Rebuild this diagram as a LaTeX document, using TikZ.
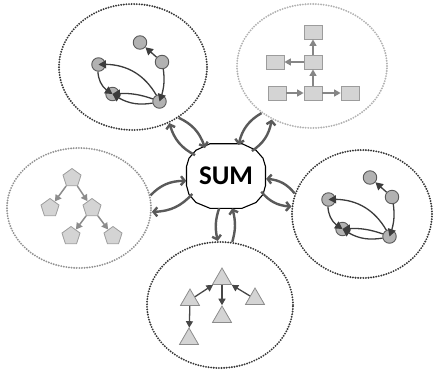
\documentclass[tikz,border=0pt]{standalone}
\usepackage{fontspec}
\setmainfont{Carlito}
\usetikzlibrary{arrows.meta,shapes.geometric,bending}

\definecolor{dotdark}{HTML}{363636}
\definecolor{dotgray}{HTML}{929292}
\definecolor{dotlight}{HTML}{B2B2B2}
\definecolor{linkgray}{HTML}{5A5A5A}
\definecolor{ballfill}{HTML}{B2B2B2}
\definecolor{balledge}{HTML}{5A5A5A}
\definecolor{ballline}{HTML}{3C3C3C}
\definecolor{shapefill}{HTML}{D4D4D4}
\definecolor{shapeedge}{HTML}{9C9C9C}

\tikzset{
  region/.style={ellipse, inner sep=0pt, line width=2.1pt, line cap=round,
                 dash pattern=on 0pt off 2.6pt},
  link/.style={draw=linkgray, line width=2.4pt,
               -{Straight Barb[length=3.8pt,width=9pt]}},
  ball/.style={circle, fill=ballfill, draw=balledge, line width=0.9pt,
               minimum size=13.5pt, inner sep=0pt},
  ballarrow/.style={draw=ballline, line width=1.3pt,
                    -{Triangle[length=7.5pt,width=8pt]}},
  box/.style={rectangle, fill=shapefill, draw=shapeedge, line width=0.8pt,
              minimum width=18pt, minimum height=14pt, inner sep=0pt},
  boxarrow/.style={draw=gray!95, line width=1.5pt,
                   -{Triangle[length=6.5pt,width=7pt]}},
  penta/.style={regular polygon, regular polygon sides=5, fill=shapefill,
                draw=shapeedge, line width=0.8pt, minimum size=19pt, inner sep=0pt},
  pentaarrow/.style={draw=gray!90, line width=1.5pt,
                     -{Triangle[length=6.5pt,width=7pt]}},
  tri/.style={regular polygon, regular polygon sides=3, fill=shapefill,
              draw=gray!90, line width=0.8pt, minimum size=22pt, inner sep=0pt},
  triarrow/.style={draw=black!72, line width=1.3pt,
                   -{Triangle[length=6.5pt,width=7pt]}},
  dotgraph/.pic={
    \node[ball] (-a) at (0,0) {};
    \node[ball] (-b) at (22,-19.5) {};
    \node[ball] (-c) at (-41.5,-22) {};
    \node[ball] (-d) at (-27.5,-51.5) {};
    \node[ball] (-e) at (19.5,-59) {};
    \draw[ballarrow] (-b) -- (-a);
    \draw[ballarrow] (-b) to[bend left=14] (-e);
    \draw[ballarrow] (-c) to[bend right=30] (-d);
    \draw[ballarrow] (-e) to[bend right=32] (-c);
    \draw[ballarrow] (-e) to[bend right=12] (-d);
    \draw[ballarrow] (-e) to[bend left=22] (-d);
  }
}

\begin{document}
\begin{tikzpicture}[x=1pt, y=1pt]
\useasboundingbox (0,0) rectangle (434,-373);

% five dotted regions
\node[region, draw=dotdark, minimum width=148pt, minimum height=126pt] (c1) at (133,-67) {};
\node[region, draw=dotlight, minimum width=150pt, minimum height=124pt] (c2) at (312,-66) {};
\node[region, draw=dotgray, minimum width=144pt, minimum height=120pt] (c3) at (79,-208) {};
\node[region, draw=dotdark, minimum width=140pt, minimum height=128pt] (c4) at (362,-214) {};
\node[region, draw=dotdark, minimum width=146pt, minimum height=126pt] (c5) at (220,-305) {};

% central node and its many-sided outline
\node[ellipse, minimum width=80pt, minimum height=65pt, inner sep=0pt,
      font=\bfseries\fontsize{27}{27}\selectfont] (sum) at (226,-176) {SUM};
\draw[line width=1.1pt, line join=round, shift={(sum.center)}]
  (-16,32.3) -- (16,32.3) -- (30,25.8) -- (37,17.8) -- (39.5,9.5) --
  (39.5,-9.5) -- (37,-18.5) -- (30,-26.5) -- (16,-32.3) -- (-16,-32.3) --
  (-30,-26.5) -- (-37,-18.5) -- (-39.5,-9.5) -- (-39.5,9.5) -- (-37,17.8) --
  (-30,25.8) -- cycle;

% two-way links
\draw[link] (c1.-48) to[bend left=24] (sum.127);
\draw[link] (sum.146) to[bend left=24] (c1.-57);
\draw[link] (c2.-137) to[bend right=24] (sum.68);
\draw[link] (sum.44) to[bend right=24] (c2.-127);
\draw[link] (c3.10) to[bend left=24] (sum.187);
\draw[link] (sum.208) to[bend left=24] (c3.-3);
\draw[link] (c4.163) to[bend right=24] (sum.-4);
\draw[link] (sum.-24) to[bend right=24] (c4.174);
\draw[link] (sum.-102) to[bend right=16] (c5.92);
\draw[link] (c5.79) to[bend right=16] (sum.-79);

% ball graphs
\pic (g1) at (140,-42.5) {dotgraph};
\pic (g2) at (370,-177.5) {dotgraph};

% box tree
\node[box] (r1) at (313,-32) {};
\node[box] (r2) at (313,-62) {};
\node[box] (r3) at (275,-62) {};
\node[box] (r4) at (277,-93) {};
\node[box] (r5) at (313,-93) {};
\node[box] (r6) at (350,-93) {};
\draw[boxarrow] (r2) -- (r1);
\draw[boxarrow] (r2) -- (r3);
\draw[boxarrow] (r5) -- (r2);
\draw[boxarrow] (r4) -- (r5);
\draw[boxarrow] (r5) -- (r6);

% pentagon tree
\node[penta] (p1) at (72,-178) {};
\node[penta] (p2) at (50,-208) {};
\node[penta] (p3) at (92,-208) {};
\node[penta] (p4) at (71,-236) {};
\node[penta] (p5) at (113,-236) {};
\draw[pentaarrow] (p1) -- (p2);
\draw[pentaarrow] (p1) -- (p3);
\draw[pentaarrow] (p3) -- (p4);
\draw[pentaarrow] (p3) -- (p5);

% triangle tree
\node[tri] (t1) at (222,-279) {};
\node[tri] (t2) at (190,-300) {};
\node[tri] (t3) at (222,-317) {};
\node[tri] (t4) at (255,-299) {};
\node[tri] (t5) at (189,-339) {};
\draw[triarrow] (t2) -- (t1);
\draw[triarrow] (t4) -- (t1);
\draw[triarrow] (t1) -- (t3);
\draw[triarrow] (t2) -- (t5);
\end{tikzpicture}
\end{document}
